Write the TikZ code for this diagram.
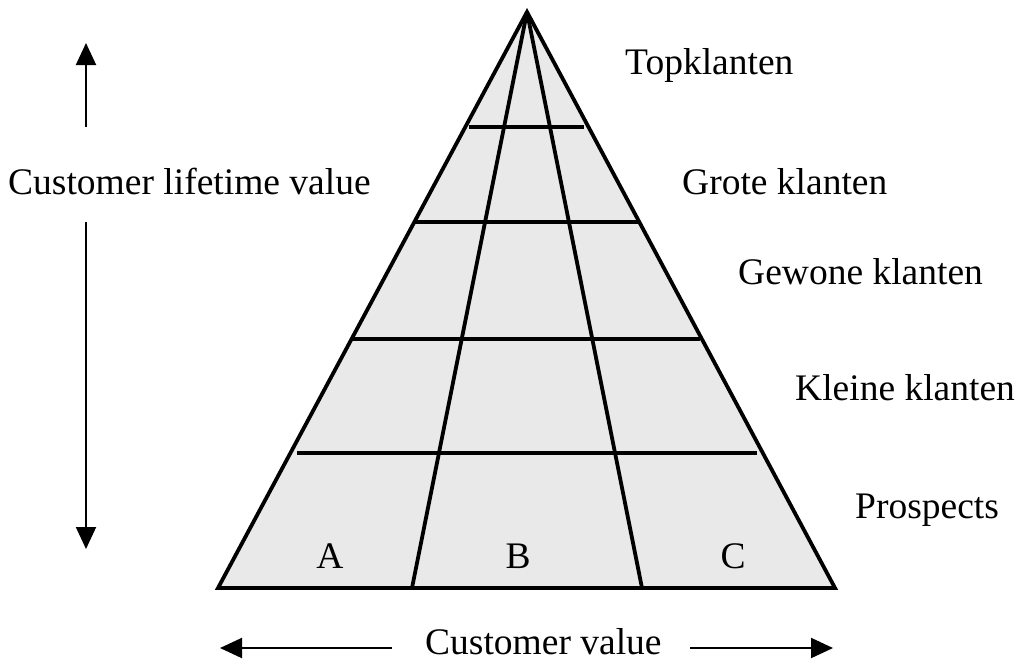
\documentclass[tikz,border=0pt]{standalone}
\usepackage{fontspec}
\setmainfont{Liberation Serif}
\usetikzlibrary{arrows.meta}
\begin{document}
\begin{tikzpicture}[x=1pt,y=-1pt,
  edge/.style={line width=3.8pt,line join=miter,line cap=butt},
  axis/.style={line width=2pt,-{Triangle[width=20pt,length=22pt]}},
  lbl/.style={font=\fontsize{37.5}{42}\selectfont,inner sep=0pt,anchor=base west},
  letter/.style={font=\fontsize{37.5}{42}\selectfont,inner sep=0pt,anchor=base}]
\useasboundingbox (0,0) rectangle (1019,662);
\coordinate (T) at (527,12);
\coordinate (BL) at (218,588);
\coordinate (BR) at (835,588);
\coordinate (M1) at (412,588);
\coordinate (M2) at (642,588);
\fill[gray!17] (T) -- (BL) -- (BR) -- cycle;
\draw[edge] (T) -- (M1);
\draw[edge] (T) -- (M2);
\draw[edge] (469,127) -- (584,127);
\draw[edge] (413,222) -- (638,222);
\draw[edge] (352,339) -- (700,339);
\draw[edge] (297,453) -- (757,453);
\draw[edge] (T) -- (BL) -- (BR) -- cycle;
% labels
\node[lbl] (top) at (625,74) {Topklanten};
\node[lbl] (grote) at (682,194) {Grote klanten};
\node[lbl] (gewone) at (738,284) {Gewone klanten};
\node[lbl] (kleine) at (795,400) {Kleine klanten};
\node[lbl] (prosp) at (855,518) {Prospects};
\node[letter] (A) at (330,568) {A};
\node[letter] (B) at (518,568) {B};
\node[letter] (C) at (733,568) {C};
\node[lbl] (clv) at (8,194) {Customer lifetime value};
\node[lbl] (cv) at (425,654) {Customer value};
\coordinate (u0) at (86,127);
\coordinate (u1) at (86,43);
\coordinate (d0) at (86,222);
\coordinate (d1) at (86,549);
\coordinate (l0) at (392,648);
\coordinate (l1) at (220,648);
\coordinate (r0) at (690,648);
\coordinate (r1) at (833,648);
\draw[axis] (u0) -- (u1);
\draw[axis] (d0) -- (d1);
\draw[axis] (l0) -- (l1);
\draw[axis] (r0) -- (r1);
\end{tikzpicture}
\end{document}
